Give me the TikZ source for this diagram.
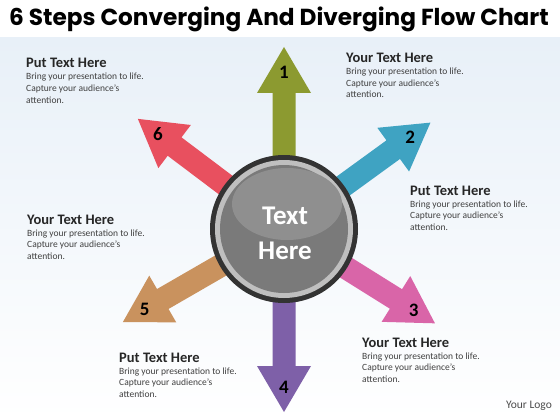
\documentclass[tikz,border=0pt]{standalone}
\usepackage{fontspec}
\setmainfont{Carlito}
\newfontfamily\titlefont{Poppins}
\definecolor{bgblue}{HTML}{E8F0F8}
\definecolor{stepA}{HTML}{8C9A30}
\definecolor{stepB}{HTML}{3FA3C2}
\definecolor{stepC}{HTML}{D965A8}
\definecolor{stepD}{HTML}{7E60A8}
\definecolor{stepE}{HTML}{C9925E}
\definecolor{stepF}{HTML}{E8505F}
\tikzset{
  heading/.style={anchor=base west, inner sep=0pt, font=\fontsize{14.5}{16}\selectfont\bfseries, text=black!85},
  bodytext/.style={anchor=base west, inner sep=0pt, font=\fontsize{9.5}{11}\selectfont, text=black!75},
  stepnum/.style={inner sep=0pt, font=\fontsize{19}{22}\selectfont\bfseries, text=black}
}
\begin{document}
\begin{tikzpicture}[x=1pt,y=-1pt]
  \useasboundingbox (0,0) rectangle (560,420);
  \fill [white] (0,0) rectangle (560,420);
  \shade [top color=bgblue, bottom color=white] (0,38) rectangle (560,420);
  \node (title) at (279,19) {\titlefont\bfseries\fontsize{23.2}{26}\selectfont 6 Steps Converging And Diverging Flow Chart};

  % the six arrows
  \coordinate (C) at (284,229);
  \foreach \ang/\len/\col/\num in {90/182/stepA/1, 36/181/stepB/2, -32/178/stepC/3, 270/183/stepD/4, 210/186/stepE/5, 143/183/stepF/6} {
    \begin{scope}[shift={(C)}, rotate=\ang]
      \fill [\col] (0,-11.5) -- (\len-46,-11.5) -- (\len-46,-27) -- (\len,0) -- (\len-46,27) -- (\len-46,11.5) -- (0,11.5) -- cycle;
      \node (n\num) at (\len-25,0) [stepnum] {\num};
    \end{scope}
  }

  % hub
  \fill [black!80] (C) circle (74pt);
  \fill [black!25] (C) circle (69pt);
  \fill [black!52] (C) circle (64pt);
  \fill [black!44] (287,204) ellipse (55pt and 36pt);
  \node (hub) at (285,233) [align=center, text=white, font=\fontsize{27}{35}\selectfont\bfseries] {Text\\Here};

  % text blocks
  \foreach \x/\y/\head [count=\i] in {26/68/Put Text Here, 346/63/Your Text Here, 410/195/Put Text Here, 27/224/Your Text Here, 119/362/Put Text Here, 362/347/Your Text Here} {
    \node (h\i) at (\x,\y) [heading] {\head};
    \foreach \line [count=\k] in {Bring your presentation to life., Capture your audience’s, attention.}
      \node (b\i-\k) at (\x,\y+0.5+11.5*\k) [bodytext] {\line};
  }
  \node (logo) at (529,406) [font=\fontsize{11.5}{13}\selectfont, text=black!70] {Your Logo};
\end{tikzpicture}
\end{document}
